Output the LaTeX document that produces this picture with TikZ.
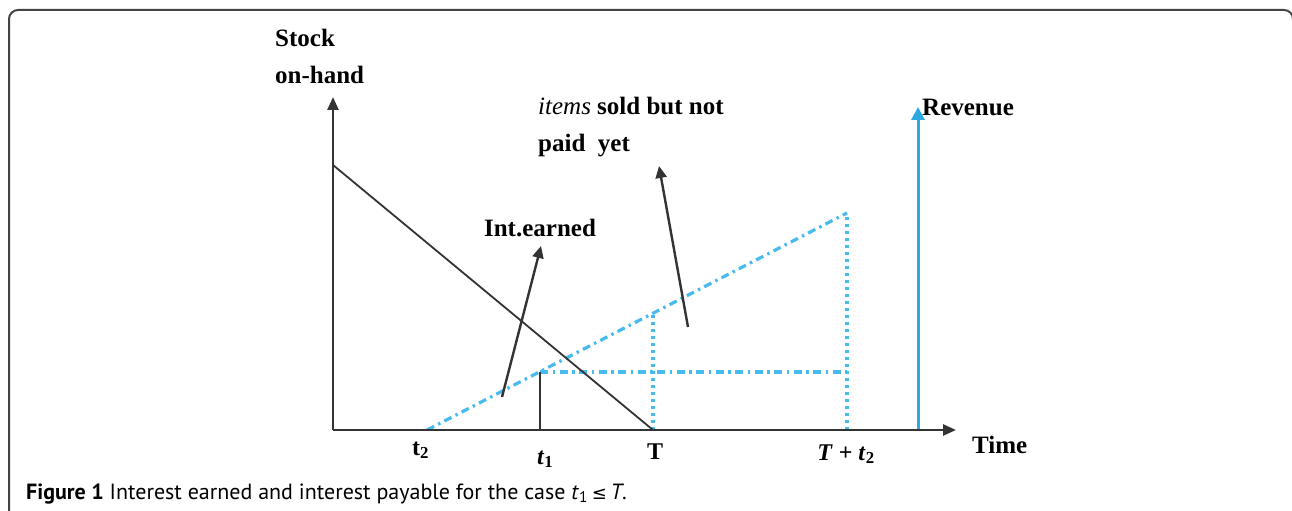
\documentclass[tikz,border=0pt]{standalone}
\usepackage{fontspec}
\setmainfont{Liberation Serif}
\newfontfamily\capfont{PT Sans}
\newfontfamily\symfont{DejaVu Sans}
\usetikzlibrary{arrows.meta}
\definecolor{axisgray}{HTML}{333333}
\definecolor{framegray}{HTML}{444444}
\definecolor{lightblue}{HTML}{48BBEE}
\definecolor{revblue}{HTML}{2EA8E0}
\begin{document}
\begin{tikzpicture}[x=1bp,y=-1bp,
  axis/.style={draw=axisgray,line width=2.6bp,-{Triangle[length=13bp,width=11bp]}},
  pointer/.style={draw=axisgray,line width=2.4bp,-{Triangle[length=12bp,width=11bp]}},
  stockline/.style={draw=axisgray,line width=1.8bp},
  dashdotblue/.style={draw=lightblue,line width=3.2bp,dash pattern=on 8bp off 4.5bp on 2.5bp off 4.5bp},
  dotblue/.style={draw=lightblue,line width=3.2bp,dash pattern=on 3bp off 4bp},
  lbl/.style={inner sep=0pt,font=\fontsize{25bp}{30bp}\selectfont\bfseries},
  ticklbl/.style={inner sep=0pt,font=\fontsize{24bp}{28bp}\selectfont\bfseries}]
\useasboundingbox (0,0) rectangle (1292,511);
\clip (0,0) rectangle (1292,511);
\fill[white] (0,0) rectangle (1292,511);
% frame
\draw[framegray,line width=2bp,rounded corners=9bp] (9,560) -- (9,10) -- (1293,10) -- (1293,560);
% coordinates
\coordinate (O) at (333,430);
\coordinate (Ytip) at (333,97);
\coordinate (Xtip) at (956,430);
\coordinate (S0) at (333,165);
\coordinate (Tp) at (653,430);
\coordinate (t2p) at (427,430);
\coordinate (t1p) at (540,430);
\coordinate (Tt2p) at (847,430);
\coordinate (P1) at (540,372);
\coordinate (PT) at (653,313);
\coordinate (Ptop) at (847,213);
\coordinate (P1r) at (847,372);
\coordinate (R0) at (918,430);
\coordinate (Rtip) at (918,107);
\coordinate (IEs) at (502,397);
\coordinate (IEt) at (541,246);
\coordinate (ISs) at (688,327);
\coordinate (ISt) at (659,166);
% blue lines
\draw[dashdotblue] (t2p) -- (Ptop);
\draw[dashdotblue] (P1) -- (P1r);
\draw[dotblue] (Tp) -- (PT);
\draw[dotblue] (Tt2p) -- (Ptop);
\draw[revblue,line width=3bp,-{Triangle[length=13bp,width=13bp]}] (R0) -- (Rtip);
% black lines
\draw[stockline] (S0) -- (Tp);
\draw[draw=axisgray,line width=1.8bp] (t1p) -- (P1);
\draw[pointer] (IEs) -- (IEt);
\draw[pointer] (ISs) -- (ISt);
\draw[axis] (O) -- (Ytip);
\draw[axis] (O) -- (Xtip);
% labels
\node[lbl,anchor=base west] (stock) at (275,47) {Stock};
\node[lbl,anchor=base west] (onhand) at (275,84) {on-hand};
\node[lbl,anchor=base west] (items1) at (538,115) {\textit{\mdseries items} sold but not};
\node[lbl,anchor=base west] (items2) at (538,152) {paid\ \ yet};
\node[lbl,anchor=base] (ie) at (540,237) {Int.earned};
\node[lbl,anchor=base west] (rev) at (922,116) {Revenue};
\node[lbl,anchor=base west] (time) at (972,453) {Time};
\node[ticklbl,anchor=base west] (lt2) at (412,455) {t\textsubscript{2}};
\node[ticklbl,anchor=base west] (lt1) at (537,464) {\textit{t}\textsubscript{1}};
\node[ticklbl,anchor=base] (lT) at (655,459) {T};
\node[ticklbl,anchor=base] (lTt2) at (846,460) {\textit{T} + \textit{t}\textsubscript{2}};
% caption
\node[inner sep=0pt,anchor=base west,font=\capfont\fontsize{22bp}{26bp}\selectfont] (cap) at (26,499)
  {\textbf{Figure 1} Interest earned and interest payable for the case \textit{t}\textsubscript{1}\,{\symfont\fontsize{18bp}{20bp}\selectfont ≤}\,\textit{T}.};
\end{tikzpicture}
\end{document}
